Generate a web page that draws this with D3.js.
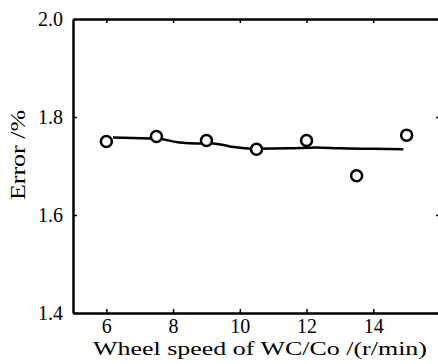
<!DOCTYPE html>
<html>
<head>
<meta charset="utf-8">
<script src="https://cdn.jsdelivr.net/npm/d3@7"></script>
<style>
  body { margin: 0; background: #fff; }
</style>
</head>
<body>
<div id="graph"></div>
<script>
// measured points
var speeds = [6, 7.5, 9, 10.5, 12, 13.5, 15];
var errors = [1.750, 1.760, 1.752, 1.734, 1.752, 1.680, 1.763];

// fitted curve drawn through the points
var fitX = [6.2, 6.8, 7.5, 8.2, 8.7, 9.2, 9.7, 10.5, 11.5, 12.3, 13, 14, 14.9];
var fitY = [1.758, 1.757, 1.756, 1.748, 1.746, 1.746, 1.740, 1.735, 1.736, 1.738, 1.736, 1.735, 1.734];

var xTicks = [6, 8, 10, 12, 14, 16];
var yTicks = [1.4, 1.6, 1.8, 2.0];

var serif = "Liberation Serif";

var margin = {top: 19, right: -2, bottom: 51, left: 73},
    width = 438 - margin.left - margin.right,
    height = 364 - margin.top - margin.bottom;

var svg = d3.select("#graph")
  .append("svg")
    .attr("width", 438)
    .attr("height", 364)
  .append("g")
    .attr("transform", "translate(" + margin.left + "," + margin.top + ")");

var x = d3.scaleLinear()
        .domain([5, 16])
        .range([0, width]);

var y = d3.scaleLinear()
        .domain([1.4, 2.0])
        .range([height, 0]);

// bottom axis
svg.append("g")
  .call(d3.axisBottom(x).tickValues(xTicks.slice(0, 5)).tickSize(-4).tickSizeOuter(0)
    .tickPadding(6).tickFormat(d3.format("d")))
  .attr("transform", "translate(0," + height + ")");

// left axis
svg.append("g")
  .call(d3.axisLeft(y).tickValues(yTicks).tickSize(-4).tickSizeOuter(0)
    .tickPadding(10).tickFormat(d3.format(".1f")));

// top and right axes, no labels
svg.append("g")
  .call(d3.axisTop(x).tickValues(xTicks).tickSize(-4).tickSizeOuter(0).tickFormat(""));
svg.append("g")
  .attr("transform", "translate(" + width + ",0)")
  .call(d3.axisRight(y).tickValues(yTicks).tickSize(-4).tickSizeOuter(0).tickFormat(""));

svg.selectAll(".domain").attr("stroke", "#000").attr("stroke-width", 2.5);
svg.selectAll(".tick line").attr("stroke", "#000").attr("stroke-width", 1.5);
svg.selectAll(".tick text")
  .attr("font-size", 20)
  .attr("font-family", serif)
  .style("font-family", serif)
  .style("font-size", "20px");

// fitted line
var fit = fitX.map(function(d, i) { return {x: d, y: fitY[i]}; });
svg.append("path")
  .datum(fit)
  .attr("fill", "none")
  .attr("stroke", "#000")
  .attr("stroke-width", 2.5)
  .attr("d", d3.line()
    .curve(d3.curveMonotoneX)
    .x(function(d) { return x(d.x); })
    .y(function(d) { return y(d.y); }));

// circles
svg.selectAll(".pt")
  .data(speeds)
  .enter()
  .append("circle")
    .attr("class", "pt")
    .attr("cx", function(d) { return x(d); })
    .attr("cy", function(d, i) { return y(errors[i]); })
    .attr("r", 5.5)
    .attr("fill", "#fff")
    .attr("stroke", "#000")
    .attr("stroke-width", 2.5);

// axis titles
svg.append("text")
  .attr("x", 260 - margin.left)
  .attr("y", height + 42)
  .attr("text-anchor", "middle")
  .attr("font-family", serif)
  .attr("font-size", 19)
  .attr("textLength", 334)
  .attr("lengthAdjust", "spacingAndGlyphs")
  .text("Wheel speed of WC/Co /(r/min)");

svg.append("text")
  .attr("transform", "translate(" + (-48) + "," + (155 - margin.top) + ") rotate(-90)")
  .attr("text-anchor", "middle")
  .attr("font-family", serif)
  .attr("font-size", 20)
  .attr("textLength", 90)
  .attr("lengthAdjust", "spacingAndGlyphs")
  .text("Error /%");
</script>
</body>
</html>
